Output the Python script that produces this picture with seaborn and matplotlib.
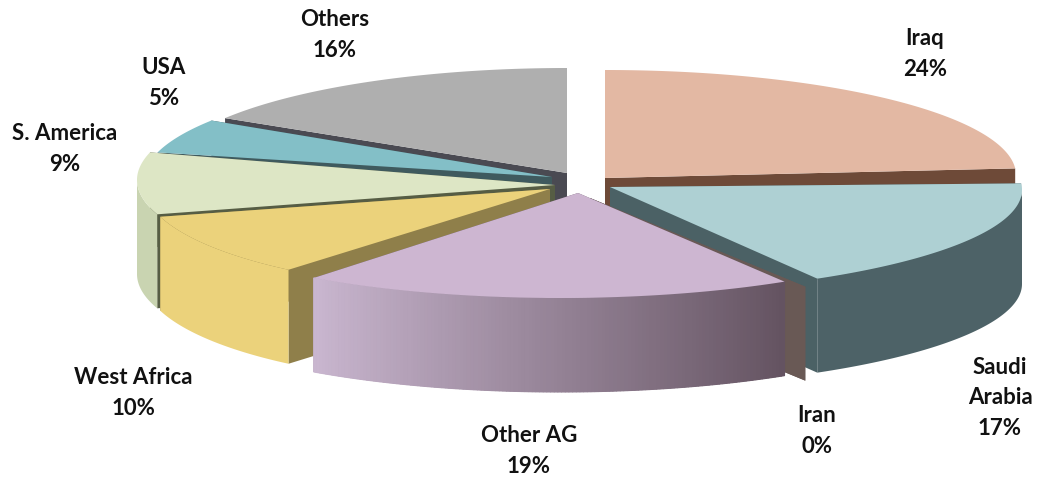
import numpy as np
import matplotlib
matplotlib.use("Agg")
import matplotlib.pyplot as plt
from matplotlib.patches import Polygon
import seaborn as sns

# Crude oil supply by source, share in percent, clockwise from 12 o'clock
sources = ["Iraq", "Saudi\nArabia", "Iran", "Other AG", "West Africa", "S. America", "USA", "Others"]
shares = [24, 17, 0, 19, 10, 9, 5, 16]

top_hex = ["#e3b8a3", "#aed0d3", "#6a5a58", "#cdb6d1", "#ebd27b", "#dde6c5", "#83bfc7", "#afafaf"]
face_hex = ["#6e4a38", "#4b6165", "#695955", "#6a5a68", "#8f7f4a", "#565d44", "#3f5a5e", "#4a4a52"]
rim_near_hex = ["#6e4a38", "#4d6267", "#695955", "#c9b6cf", "#ebd27b", "#c9d4b1", "#6a9aa1", "#8a8a8a"]
rim_far_hex = ["#6e4a38", "#4d6267", "#695955", "#645361", "#ebd27b", "#c9d4b1", "#6a9aa1", "#8a8a8a"]

# Pull-out layout of each slice: tip x, tip y, arc centre x, arc centre y, rx, ry
slice_layout = {
    "Iraq": (605, 178, 605, 175, 411, 105),
    "Saudi\nArabia": (610, 187, 581, 190, 441, 105),
    "Iran": (590, 198, 569, 198, 441, 105),
    "Other AG": (578, 193, 560, 193, 419, 105),
    "West Africa": (550, 189, 496, 184, 353, 106),
    "S. America": (555, 185, 550, 180, 413, 111),
    "USA": (552, 177, 577, 180, 433, 111),
    "Others": (567, 173, 567, 176, 405, 108),
}
label_centres = {
    "Iraq": (925, 54),
    "Saudi\nArabia": (1000, 398),
    "Iran": (817, 431),
    "Other AG": (529, 451),
    "West Africa": (133, 393),
    "S. America": (65, 149),
    "USA": (164, 83),
    "Others": (335, 35),
}
paint_order = ["Others", "USA", "S. America", "West Africa", "Iraq", "Saudi\nArabia", "Iran", "Other AG"]
thickness = 94

sns.set_theme(style="white")
plt.rcParams["font.family"] = ["Lato", "DejaVu Sans"]

fig = plt.figure(figsize=(10.37, 4.78), dpi=100)
ax = fig.add_axes([0, 0, 1, 1])
ax.set_xlim(0, 1037)
ax.set_ylim(478, 0)
ax.axis("off")

tops = sns.color_palette(top_hex)
faces = sns.color_palette(face_hex)

edges = np.concatenate([[0], np.cumsum(shares)]) * 3.6


def arc_points(layout, a0, a1, n):
    _, _, cx, cy, rx, ry = layout
    t = np.radians(np.linspace(a0, a1, n))
    return np.column_stack([cx + rx * np.sin(t), cy - ry * np.cos(t)])


def draw_rim(i, layout, a0, a1, drop):
    # Only the front half of the cylinder wall can be seen
    a0, a1 = max(a0, 90.0), min(a1, 270.0)
    if a1 <= a0:
        return
    n = max(int(a1 - a0) * 2, 2)
    rim = arc_points(layout, a0, a1, n + 1)
    shades = sns.blend_palette([rim_far_hex[i], rim_near_hex[i]], n)
    ax.add_patch(Polygon(np.vstack([rim, rim[::-1] + drop]), facecolor=shades[n // 2],
                         edgecolor="none", zorder=1))
    if rim_far_hex[i] != rim_near_hex[i]:
        for k in range(n):
            ax.add_patch(Polygon([rim[k], rim[k + 1], rim[k + 1] + drop, rim[k] + drop],
                                 facecolor=shades[k], edgecolor=shades[k], linewidth=0.8, zorder=1))


def draw_slice(i, name):
    layout = slice_layout[name]
    tip = np.array(layout[:2], dtype=float)
    drop = np.array([0, thickness])
    a0, a1 = edges[i], edges[i + 1]

    # Cut faces at both slice boundaries
    for a in (a0, a1):
        p = arc_points(layout, a, a, 1)[0]
        ax.add_patch(Polygon([tip, p, p + drop, tip + drop], facecolor=faces[i], edgecolor="none", zorder=1))

    if a1 <= a0:
        return

    draw_rim(i, layout, a0, a1, drop)

    # Top surface
    ax.add_patch(Polygon(np.vstack([tip, arc_points(layout, a0, a1, 120)]),
                         facecolor=tops[i], edgecolor="none", zorder=1))


for name in paint_order:
    draw_slice(sources.index(name), name)

for name, share in zip(sources, shares):
    x, y = label_centres[name]
    ax.text(x, y, f"{name}\n{share}%", ha="center", va="center", fontsize=16,
            fontweight="bold", color="#111111", linespacing=1.55, zorder=3)

fig.savefig("out.png", dpi=100, facecolor="white")
